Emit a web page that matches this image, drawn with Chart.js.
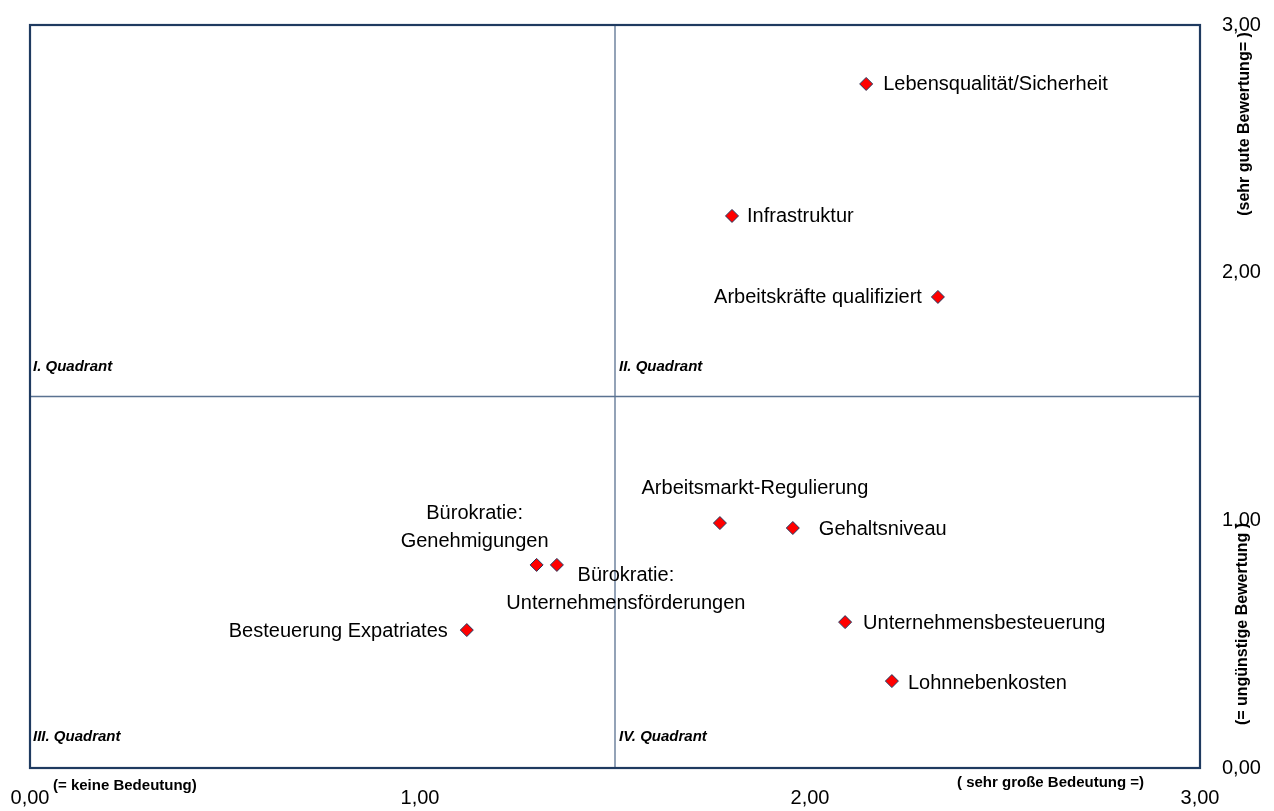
<!DOCTYPE html>
<html>
<head>
<meta charset="utf-8">
<script src="https://cdn.jsdelivr.net/npm/chart.js@4"></script>
<style>
  html, body { margin: 0; padding: 0; background: #fff; }
  #wrap { width: 1274px; height: 811px; position: relative; }
</style>
</head>
<body>
<div id="wrap"><canvas id="c" width="1274" height="811"></canvas></div>
<script>
// ---- data ----
const labels = [
  "Lebensqualität/Sicherheit",
  "Infrastruktur",
  "Arbeitskräfte qualifiziert",
  "Arbeitsmarkt-Regulierung",
  "Gehaltsniveau",
  "Bürokratie:\nGenehmigungen",
  "Bürokratie:\nUnternehmensförderungen",
  "Besteuerung Expatriates",
  "Unternehmensbesteuerung",
  "Lohnnebenkosten"
];
const bedeutung = [2.144, 1.800, 2.328, 1.769, 1.956, 1.299, 1.351, 1.120, 2.090, 2.210];
const bewertung = [2.762, 2.229, 1.902, 0.989, 0.969, 0.820, 0.820, 0.557, 0.589, 0.351];
const tickValues = [0, 1, 2, 3];
const quadrantNames = ["I. Quadrant", "II. Quadrant", "III. Quadrant", "IV. Quadrant"];
const xAxisTitles = ["(= keine Bedeutung)", "( sehr große Bedeutung =)"];
const yAxisTitles = ["(sehr gute Bewertung= )", "(= ungünstige Bewertung )"];
const midValue = 1.5;

// ---- label placement (pixel offsets from point) ----
const labelPlacement = [
  { align: "left",   dx: 17,  dy: [1] },
  { align: "left",   dx: 15,  dy: [1] },
  { align: "right",  dx: -16, dy: [1] },
  { align: "center", dx: 35,  dy: [-35] },
  { align: "left",   dx: 26,  dy: [1] },
  { align: "center", dx: -62, dy: [-51, -23] },
  { align: "center", dx: 69,  dy: [11, 39] },
  { align: "right",  dx: -19, dy: [1] },
  { align: "left",   dx: 18,  dy: [1] },
  { align: "left",   dx: 16,  dy: [2] }
];

const NAVY = "#1F3A60";
const MID = "#5A7291";
const FONT = "'Liberation Sans', Arial, sans-serif";

const fmt = v => v.toFixed(2).replace(".", ",");

const decorPlugin = {
  id: "decor",
  beforeDatasetsDraw(chart) {
    const { ctx, chartArea: a, scales: { x, y } } = chart;
    ctx.save();
    // mid lines
    ctx.strokeStyle = MID;
    ctx.lineWidth = 1.3;
    const mx = x.getPixelForValue(midValue);
    const my = y.getPixelForValue(midValue);
    ctx.beginPath();
    ctx.moveTo(mx, a.top); ctx.lineTo(mx, a.bottom);
    ctx.moveTo(a.left, my); ctx.lineTo(a.right, my);
    ctx.stroke();
    // border
    ctx.strokeStyle = NAVY;
    ctx.lineWidth = 2.2;
    ctx.strokeRect(a.left, a.top, a.right - a.left, a.bottom - a.top);
    // quadrant labels
    ctx.fillStyle = "#000";
    ctx.font = "italic bold 15px " + FONT;
    ctx.textAlign = "left";
    ctx.textBaseline = "middle";
    ctx.fillText(quadrantNames[0], a.left + 3, my - 30);
    ctx.fillText(quadrantNames[1], mx + 4, my - 30);
    ctx.fillText(quadrantNames[2], a.left + 3, a.bottom - 31);
    ctx.fillText(quadrantNames[3], mx + 4, a.bottom - 31);
    // axis titles
    ctx.font = "bold 15px " + FONT;
    ctx.fillText(xAxisTitles[0], a.left + 23, a.bottom + 18);
    ctx.fillText(xAxisTitles[1], 957, a.bottom + 15);
    ctx.font = "bold 16px " + FONT;
    ctx.textAlign = "center";
    ctx.save();
    ctx.translate(1245, 124);
    ctx.rotate(-Math.PI / 2);
    ctx.fillText(yAxisTitles[0], 0, 0);
    ctx.restore();
    ctx.save();
    ctx.translate(1243, 624);
    ctx.rotate(-Math.PI / 2);
    ctx.fillText(yAxisTitles[1], 0, 0);
    ctx.restore();
    ctx.restore();
  },
  afterDatasetsDraw(chart) {
    const { ctx } = chart;
    const meta = chart.getDatasetMeta(0);
    ctx.save();
    ctx.fillStyle = "#000";
    ctx.font = "20px " + FONT;
    ctx.textBaseline = "middle";
    meta.data.forEach((pt, i) => {
      const p = labelPlacement[i];
      const lines = labels[i].split("\n");
      ctx.textAlign = p.align;
      lines.forEach((ln, j) => {
        ctx.fillText(ln, pt.x + p.dx, pt.y + p.dy[j]);
      });
    });
    ctx.restore();
  }
};

new Chart(document.getElementById("c"), {
  type: "scatter",
  data: {
    datasets: [{
      data: bedeutung.map((v, i) => ({ x: v, y: bewertung[i] })),
      pointStyle: "rectRot",
      pointRadius: 6.5,
      pointHoverRadius: 6.5,
      backgroundColor: "#FF0000",
      borderColor: NAVY,
      borderWidth: 1
    }]
  },
  options: {
    responsive: false,
    animation: false,
    events: [],
    layout: { padding: { left: 30, top: 25, right: 0, bottom: 0 } },
    plugins: { legend: { display: false }, tooltip: { enabled: false } },
    scales: {
      x: {
        type: "linear",
        min: 0, max: 3,
        grid: { display: false, drawTicks: false },
        border: { display: false },
        afterBuildTicks: s => { s.ticks = tickValues.map(v => ({ value: v })); },
        afterFit: s => { s.height = 43; s.paddingLeft = 0; s.paddingRight = 0; },
        ticks: {
          padding: 18,
          color: "#000",
          font: { family: FONT, size: 20 },
          callback: v => fmt(v)
        }
      },
      y: {
        type: "linear",
        position: "right",
        min: 0, max: 3,
        grid: { display: false, drawTicks: false },
        border: { display: false },
        afterBuildTicks: s => { s.ticks = tickValues.map(v => ({ value: v })); },
        afterFit: s => { s.width = 74; s.paddingTop = 0; s.paddingBottom = 0; },
        ticks: {
          padding: 22,
          color: "#000",
          font: { family: FONT, size: 20 },
          callback: v => fmt(v)
        }
      }
    }
  },
  plugins: [decorPlugin]
});
</script>
</body>
</html>
